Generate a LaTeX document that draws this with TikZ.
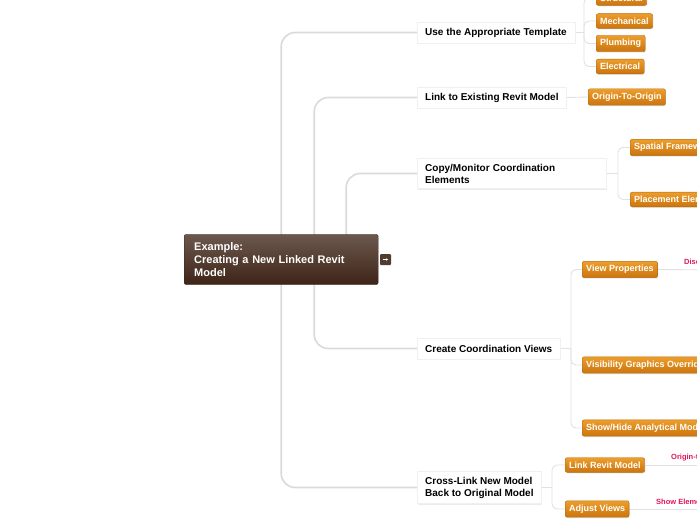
\documentclass[tikz,border=0pt]{standalone}
\usepackage{fontspec}
\setmainfont{Liberation Sans}
\usepackage{xcolor}
\usepackage{tikz}
\usetikzlibrary{arrows.meta,shadows,backgrounds}
\definecolor{roottop}{RGB}{108, 88, 78}
\definecolor{rootbot}{RGB}{62, 36, 23}
\definecolor{orangetop}{RGB}{236, 158, 44}
\definecolor{orangebot}{RGB}{203, 116, 14}
\definecolor{linegray}{RGB}{218, 218, 218}
\definecolor{hintpink}{RGB}{226, 20, 90}

\begin{document}
\begin{tikzpicture}[x=1pt, y=-1pt,
    trunk/.style={draw=linegray, line width=1.6pt, rounded corners=14pt},
    branch/.style={draw=linegray!80, line width=0.9pt, rounded corners=5pt},
    rootbox/.style={anchor=west, top color=roottop, bottom color=rootbot, draw=rootbot,
        rounded corners=2pt, text=white, text width=174pt, inner xsep=10pt, inner ysep=8pt,
        align=left, font=\fontsize{11}{13}\selectfont\bfseries},
    topic/.style={anchor=west, fill=white, draw=black!6, inner xsep=8pt, inner ysep=5.5pt,
        minimum height=21pt, align=left, font=\fontsize{10}{12}\selectfont\bfseries,
        drop shadow={opacity=0.15, shadow xshift=0.8pt, shadow yshift=-1.4pt}},
    subtopic/.style={anchor=west, top color=orangetop, bottom color=orangebot, draw=orangebot!90!black,
        rounded corners=2pt, text=white, inner xsep=4pt, inner ysep=4pt,
        font=\fontsize{9}{11}\selectfont\bfseries,
        drop shadow={opacity=0.2, shadow xshift=0.6pt, shadow yshift=-1pt}},
    hint/.style={anchor=south west, text=hintpink, inner sep=1pt,
        font=\fontsize{7.5}{9}\selectfont\bfseries},
    iconbox/.style={fill=rootbot!90, rounded corners=1pt, minimum size=11pt, inner sep=0pt}]
    \useasboundingbox (0,0) rectangle (697,520);

    % central topic
    \node[rootbox] (root) at (184,259.5) {Example:\\Creating a New Linked Revit\\Model};
    \node[iconbox] (expand) at (385.5,259.5) {};
    \draw[white, line width=0.6pt, -{Stealth[length=2pt,width=2.4pt]}] ([shift={(-3,0)}]expand.center) -- ([shift={(2.5,0)}]expand.center);

    % main topics
    \node[topic] (tmpl) at (417,32.5) {Use the Appropriate Template};
    \node[topic] (link) at (417,97.5) {Link to Existing Revit Model};
    \node[topic, text width=173pt] (copy) at (417,173.5) {Copy/Monitor Coordination\\Elements};
    \node[topic] (views) at (417,348.5) {Create Coordination Views};
    \node[topic] (cross) at (417,487.5) {Cross-Link New Model\\Back to Original Model};

    % subtopics
    \node[subtopic] (struct) at (596,-2) {Structural};
    \node[subtopic] (mech) at (596,21) {Mechanical};
    \node[subtopic] (plumb) at (596,43.5) {Plumbing};
    \node[subtopic] (elec) at (596,66.5) {Electrical};
    \node[subtopic] (origin) at (588,97) {Origin-To-Origin};
    \node[subtopic] (spatial) at (630,147.5) {Spatial Framework};
    \node[subtopic] (place) at (630,199.5) {Placement Elements};
    \node[subtopic] (viewprop) at (582,269.5) {View Properties};
    \node[subtopic] (visgraph) at (582,365) {Visibility Graphics Overrides};
    \node[subtopic] (showhide) at (582,428) {Show/Hide Analytical Model};
    \node[subtopic] (linkrevit) at (565,465) {Link Revit Model};
    \node[subtopic] (adjust) at (565,509) {Adjust Views};

    % hints on the right
    \coordinate (dispend) at (720,270);
    \coordinate (originend) at (720,465);
    \coordinate (showend) at (720,509);
    \node[hint] (disp) at (683,267) {Discipline};
    \node[hint] (originhint) at (670,462) {Origin-to-Origin};
    \node[hint] (showhint) at (655,506) {Show Elements};

    \coordinate (tmplj) at (584,32.5);
    \coordinate (copyj) at (618,173.5);
    \coordinate (viewsj) at (571,348.5);
    \coordinate (crossj) at (552,487.5);

    \begin{scope}[on background layer]
        \draw[trunk] (root.center) |- (tmpl.west);
        \draw[trunk] ([xshift=33]root.center) |- (link.west);
        \draw[trunk] ([xshift=65]root.center) |- (copy.west);
        \draw[trunk] ([xshift=33]root.center) |- (views.west);
        \draw[trunk] (root.center) |- (cross.west);

        \draw[branch] (tmpl.east) -- (tmplj);
        \foreach \c in {struct,mech,plumb,elec}
            \draw[branch] (tmplj) |- (\c.west);
        \draw[branch] (link.east) -- (origin.west);
        \draw[branch] (copy.east) -- (copyj);
        \foreach \c in {spatial,place}
            \draw[branch] (copyj) |- (\c.west);
        \draw[branch] (views.east) -- (viewsj);
        \foreach \c in {viewprop,visgraph,showhide}
            \draw[branch] (viewsj) |- (\c.west);
        \draw[branch] (cross.east) -- (crossj);
        \foreach \c in {linkrevit,adjust}
            \draw[branch] (crossj) |- (\c.west);

        \draw[branch] (viewprop.east) -- (dispend);
        \draw[branch] (linkrevit.east) -- (originend);
        \draw[branch] (adjust.east) -- (showend);
    \end{scope}
\end{tikzpicture}
\end{document}
